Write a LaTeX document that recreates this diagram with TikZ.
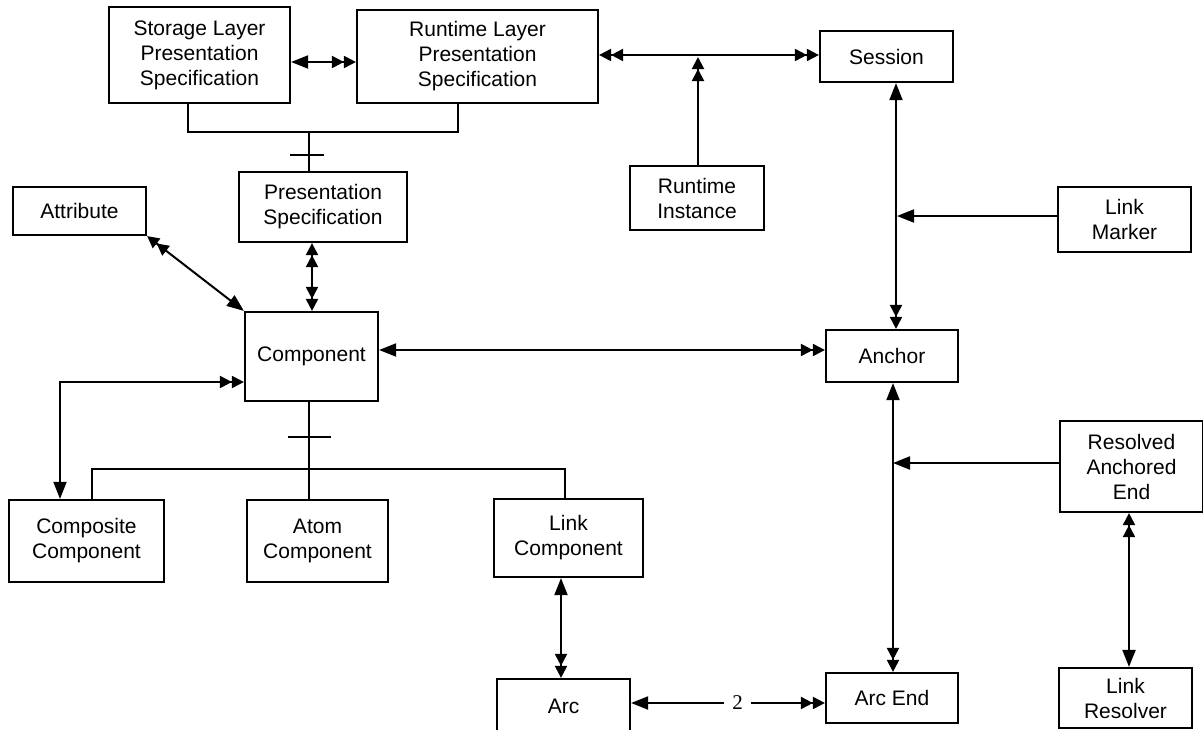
\documentclass[tikz,border=0pt]{standalone}
\usepackage{fontspec}
\setmainfont{Liberation Sans}
\newfontfamily\numfont{Liberation Serif}
\usetikzlibrary{arrows.meta}
\tikzset{
  tipS/.tip={Triangle[length=17pt,width=13pt]},
  tipD/.tip={Triangle[length=12pt,width=12pt]Triangle[length=12pt,width=12pt]},
}
\begin{document}
\begin{tikzpicture}[x=1pt,y=-1pt,
  box/.style={draw, line width=2.2pt, align=center, inner sep=0pt, font=\fontsize{21}{25}\selectfont},
  ln/.style={line width=2pt},
  lbl/.style={fill=white, inner xsep=8pt, inner ysep=2pt, font=\numfont\fontsize{21}{25}\selectfont},
]
\useasboundingbox (0,0) rectangle (1203,729);

% boxes
\node[box, minimum width=181pt, minimum height=96pt] (slps) at (199.5,55) {Storage Layer\\Presentation\\Specification};
\node[box, minimum width=241pt, minimum height=93pt] (rlps) at (477.5,56.5) {Runtime Layer\\Presentation\\Specification};
\node[box, minimum width=133pt, minimum height=51pt] (session) at (886.5,56.5) {Session};
\node[box, minimum width=134pt, minimum height=64pt] (rinst) at (697,198) {Runtime\\Instance};
\node[box, minimum width=133pt, minimum height=48pt] (attr) at (79.5,211) {Attribute};
\node[box, minimum width=168pt, minimum height=70pt] (ps) at (323,207) {Presentation\\Specification};
\node[box, minimum width=133pt, minimum height=65pt] (lm) at (1124.5,219.5) {Link\\Marker};
\node[box, minimum width=133pt, minimum height=89pt] (comp) at (311.5,356.5) {Component};
\node[box, minimum width=132pt, minimum height=52pt] (anchor) at (892,356) {Anchor};
\node[box, minimum width=143pt, minimum height=91pt] (rae) at (1131.5,466.5) {Resolved\\Anchored\\End};
\node[box, minimum width=133pt, minimum height=60pt] (lr) at (1125.5,698) {Link\\Resolver};
\node[box, minimum width=132pt, minimum height=50pt] (arcend) at (892,698) {Arc End};
\node[box, minimum width=133pt, minimum height=54pt] (arc) at (563.5,706) {Arc};
\node[box, minimum width=155pt, minimum height=82pt] (cc) at (86.5,541) {Composite\\Component};
\node[box, minimum width=141pt, minimum height=82pt] (atom) at (317.5,541) {Atom\\Component};
\node[box, minimum width=149pt, minimum height=78pt] (lc) at (568.5,538) {Link\\Component};

% junction coordinates
\coordinate (j1) at (309,132);
\coordinate (t1a) at (290,155);
\coordinate (t1b) at (324,155);
\coordinate (j2) at (309,469);
\coordinate (t2a) at (288,437);
\coordinate (t2b) at (331,437);
\coordinate (lmend) at (897,216);
\coordinate (raeend) at (893,463);

% top aggregation
\draw[ln] (slps.south -| 188,0) -- (188,132) -| (rlps.south -| 458,0);
\draw[ln] (j1) -- (j1 |- ps.north);
\draw[ln] (t1a) -- (t1b);

% top connectors
\draw[ln, tipS-tipD] (slps.east |- 0,62) -- (rlps.west |- 0,62);
\draw[ln, tipD-tipD] (rlps.east |- 0,55) -- (session.west |- 0,55);
\draw[ln, -tipD] (rinst.north -| 698,0) -- (698,57);

% component connectors
\draw[ln, tipD-tipS] (attr.south east) -- (comp.north west);
\draw[ln, tipD-tipD] (ps.south -| 312,0) -- (comp.north -| 312,0);
\draw[ln, tipS-tipD] (comp.east |- 0,350) -- (anchor.west |- 0,350);
\draw[ln, tipD-tipS] (comp.west |- 0,382) -| (cc.north -| 60,0);

% lower aggregation
\draw[ln] (comp.south -| j2) -- (j2);
\draw[ln] (t2a) -- (t2b);
\draw[ln] (cc.north -| 92,0) |- (j2) -| (lc.north -| 565,0);
\draw[ln] (j2) -- (atom.north -| j2);

% right side
\draw[ln, tipS-tipD] (session.south -| 896,0) -- (anchor.north -| 896,0);
\draw[ln, -tipS] (lm.west |- lmend) -- (lmend);
\draw[ln, tipS-tipD] (anchor.south -| 893,0) -- (arcend.north -| 893,0);
\draw[ln, -tipS] (rae.west |- raeend) -- (raeend);
\draw[ln, tipD-tipS] (rae.south -| 1129,0) -- (lr.north -| 1129,0);

% bottom
\draw[ln, tipS-tipD] (lc.south -| 561,0) -- (arc.north -| 561,0);
\draw[ln, tipS-tipD] (arc.east |- 0,703) -- node[lbl, pos=0.55] {2} (arcend.west |- 0,703);
\end{tikzpicture}
\end{document}
